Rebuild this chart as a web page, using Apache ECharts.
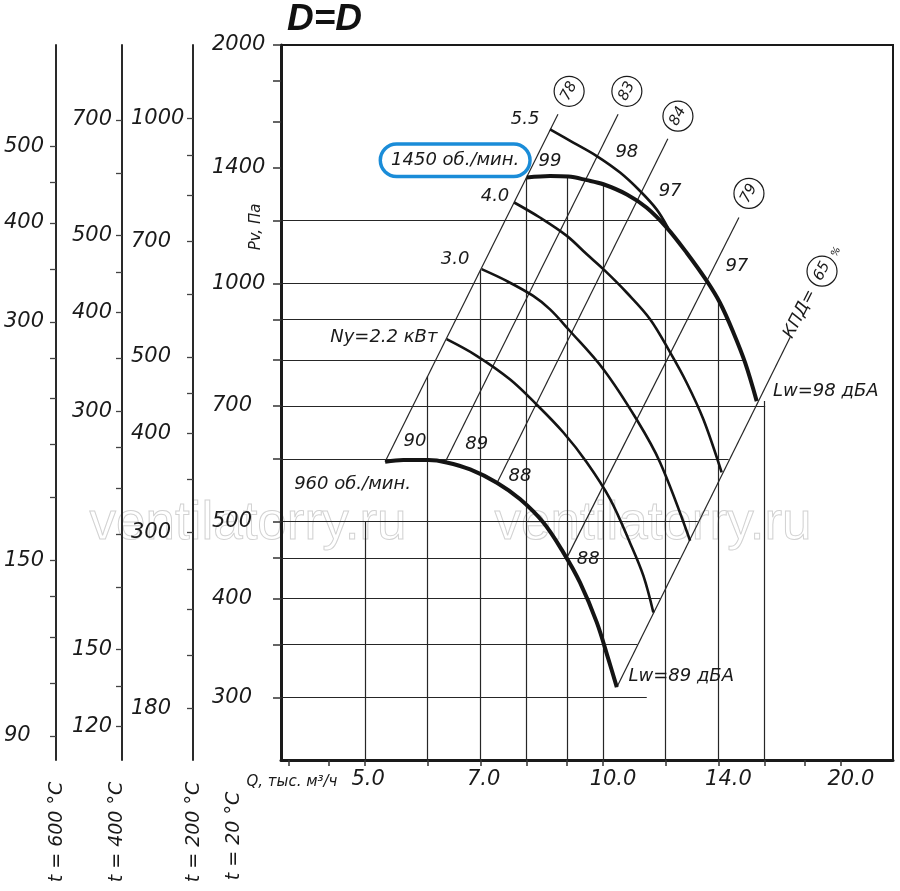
<!DOCTYPE html>
<html><head><meta charset="utf-8">
<script src="https://cdn.jsdelivr.net/npm/echarts@6/dist/echarts.min.js"></script>
<style>html,body{margin:0;padding:0;background:#fff}#c{width:900px;height:891px}</style>
</head><body><div id="c"></div>
<script>
// ---------------- data ----------------
const qMin = 3.913, qMax = 23.28, pMin = 250, pMax = 2000;
const xTicks = [4, 4.5, 5, 6, 7, 8, 9, 10, 12, 14, 16, 18, 20];
const xLabels = [5, 7, 10, 14, 20];
const yTicks20 = [2000, 1800, 1600, 1400, 1200, 1000, 900, 800, 700, 600, 500, 450, 400, 350, 300];
const yLabels20 = [2000, 1400, 1000, 700, 500, 400, 300];
const yTicks200 = [1000, 900, 800, 700, 600, 500, 450, 400, 350, 300, 270, 240, 210, 180];
const yLabels200 = [1000, 700, 500, 400, 300, 180];
const yTicks400 = [700, 600, 500, 450, 400, 350, 300, 270, 240, 210, 180, 150, 135, 120];
const yLabels400 = [700, 500, 400, 300, 150, 120];
const yTicks600 = [500, 450, 400, 350, 300, 270, 240, 210, 180, 150, 135, 120, 105, 90];
const yLabels600 = [500, 400, 300, 150, 90];
const temps = [200, 400, 600];

// fan curves (Q, тыс. м3/ч ; Pv, Па)
const q1450 = [8.01, 8.57, 9.04, 9.54, 10.01, 10.72, 11.36, 12.04, 12.76, 13.53, 14.06, 14.62, 15.13, 15.65];
const p1450 = [1360, 1366, 1364, 1350, 1334, 1295, 1246, 1176, 1093, 1007, 945, 867, 794, 710];
const q960 = [5.30, 5.59, 6.01, 6.34, 6.79, 7.34, 7.85, 8.40, 8.91, 9.35, 9.82, 10.16, 10.41];
const p960 = [595, 598, 598, 594, 582, 560, 534, 499, 457, 419, 373, 335, 309];
const qN55 = [8.57, 9.17, 9.82, 10.51, 11.14, 11.69, 12.09];
const pN55 = [1565, 1506, 1448, 1380, 1308, 1240, 1174];
const qN40 = [7.72, 8.32, 9.00, 9.54, 10.01, 10.72, 11.47, 12.16, 12.76, 13.40, 14.13];
const pN40 = [1265, 1211, 1148, 1088, 1042, 973, 901, 818, 749, 673, 577];
const qN30 = [7.02, 7.55, 8.16, 8.57, 9.04, 10.01, 11.03, 11.81, 12.89];
const pN30 = [1042, 1007, 964, 927, 875, 779, 673, 594, 473];
const qN22 = [6.34, 6.92, 7.63, 8.24, 8.91, 9.54, 10.21, 10.82, 11.25, 11.58];
const pN22 = [850, 810, 756, 703, 648, 594, 534, 470, 427, 384];

// efficiency (system) lines: low end / high end
const effQ0 = [5.30, 6.31, 7.34, 9.00, 10.41];
const effP0 = [595, 594, 559, 450, 309];
const effQ1 = [8.77, 10.45, 12.08, 14.86, 17.25];
const effP1 = [1635, 1635, 1523, 1211, 855];
const effNames = ['78', '83', '84', '79', '65'];
const effLabelQ = [9.06, 10.72, 12.44, 15.30, 18.93];
const effLabelP = [1748, 1748, 1626, 1299, 1036];

// grid lines inside the working field
const vgQ = [5, 6, 7, 8, 9, 10, 12, 14, 16];
const vgTop = [500, 763, 1040, 1360, 1364, 1334, 1176, 945, 710];
const hgP = [1200, 1000, 900, 800, 700, 600, 500, 450, 400, 350, 300];
const hgEnd = [11.85, 13.6, 14.38, 15.1, 16.04, 14.42, 13.18, 12.51, 11.81, 11.06, 11.36];

// text annotations
const noteText = ['5.5', '4.0', '3.0', 'Ny=2.2 кВт', '99', '98', '97', '97', '90', '89', '88', '88', '960 об./мин.'];
const noteQ = [7.97, 7.30, 6.50, 5.28, 8.57, 10.72, 12.16, 14.77, 5.78, 6.92, 7.85, 9.58, 4.82];
const noteP = [1612, 1289, 1072, 855, 1427, 1463, 1308, 1052, 632, 626, 571, 448, 557];
const lwText = ['Lw=98 дБА', 'Lw=89 дБА'];
const lwQ = [16.41, 10.77];
const lwP = [731, 319];
const rpmText = '1450 об./мин.';
const rpmQ = 6.50, rpmP = 1430;
const kpdQ = 17.75, kpdP = 915;
const pctQ = 19.72, pctP = 1096;

// ---------------- chart ----------------
const L = Math.log10;
const fmtP = v => String(Math.round(Math.pow(10, v)));
const INK = '#1a1a1a';
const FONT = 'DejaVu Sans';
const pt = (q, p) => [L(q), L(p)];
const zip = (qs, ps) => qs.map((q, i) => pt(q, ps[i]));

const tempTicks = {200: yTicks200, 400: yTicks400, 600: yTicks600};
const tempLabels = {200: yLabels200, 400: yLabels400, 600: yLabels600};
const tempOffset = {200: 88, 400: 159, 600: 225};
const tempMargin = {200: 62, 400: 50, 600: 52};

const labelStyle = {fontFamily: FONT, fontStyle: 'italic', fontSize: 21, color: INK};

const yAxes = [{
  type: 'value', position: 'left', min: L(pMin), max: L(pMax),
  axisLine: {show: true, onZero: false, lineStyle: {color: INK, width: 3}},
  axisTick: {show: true, customValues: yTicks20.map(L), length: 8, lineStyle: {color: '#333', width: 1.5}},
  axisLabel: Object.assign({customValues: yLabels20.map(L), formatter: fmtP, align: 'left', margin: 69}, labelStyle),
  splitLine: {show: false}
}].concat(temps.map(t => {
  const lk = L(293 / (273 + t));
  return {
    type: 'value', position: 'left', offset: tempOffset[t],
    min: L(pMin) + lk, max: L(pMax) + lk,
    axisLine: {show: true, onZero: false, lineStyle: {color: '#2a2a2a', width: 2}},
    axisTick: {show: true, customValues: tempTicks[t].map(L), length: 6, lineStyle: {color: '#444', width: 1.3}},
    axisLabel: Object.assign({customValues: tempLabels[t].map(L), formatter: fmtP, align: 'left', margin: tempMargin[t]}, labelStyle),
    splitLine: {show: false}
  };
}));

const gridSegs = vgQ.map((q, i) => ({coords: [pt(q, pMin), pt(q, vgTop[i])]}))
  .concat(hgP.map((p, i) => ({coords: [pt(qMin, p), pt(hgEnd[i], p)]})));
const effSegs = effQ0.map((q, i) => ({coords: [pt(q, effP0[i]), pt(effQ1[i], effP1[i])]}));

const curve = (name, qs, ps, w) => ({
  type: 'line', name, data: zip(qs, ps), smooth: 0.35, symbol: 'none', z: 4,
  lineStyle: {color: '#141414', width: w, opacity: 1}, silent: true
});

const textLabel = {show: true, position: 'inside', formatter: '{b}', fontFamily: FONT, fontStyle: 'italic',
  fontSize: 18, color: INK, opacity: 1, textBorderWidth: 0, textBorderColor: 'transparent', textShadowBlur: 0};
const noMark = {opacity: 1, color: 'transparent'};

const option = {
  animation: false,
  backgroundColor: '#fff',
  grid: {left: 281, right: 7, top: 45, bottom: 131, show: true, borderColor: INK, borderWidth: 2, containLabel: false, outerBoundsMode: 'none'},
  xAxis: {
    type: 'value', min: L(qMin), max: L(qMax),
    axisLine: {show: true, onZero: false, lineStyle: {color: INK, width: 3}},
    axisTick: {show: true, customValues: xTicks.map(L), length: 6, lineStyle: {color: '#333', width: 1.5}},
    axisLabel: {
      customValues: xLabels.map(L), margin: 9,
      formatter: v => { const s = Math.pow(10, v).toFixed(1); return s.length > 3 ? '{w|' + s + '}' : '{n|' + s + '}'; },
      rich: {
        w: Object.assign({padding: [0, 0, 0, 20]}, labelStyle),
        n: Object.assign({padding: [0, 0, 0, 6]}, labelStyle)
      }
    },
    splitLine: {show: false}
  },
  yAxis: yAxes,
  series: [
    {type: 'lines', coordinateSystem: 'cartesian2d', data: gridSegs, silent: true, z: 1,
     lineStyle: {color: '#262626', width: 1.2, opacity: 1}},
    {type: 'lines', coordinateSystem: 'cartesian2d', data: effSegs, silent: true, z: 2,
     lineStyle: {color: '#262626', width: 1.2, opacity: 1}},
    curve('1450', q1450, p1450, 4),
    curve('960', q960, p960, 4),
    curve('5.5', qN55, pN55, 2.6),
    curve('4.0', qN40, pN40, 2.6),
    curve('3.0', qN30, pN30, 2.6),
    curve('2.2', qN22, pN22, 2.6),
    {type: 'scatter', symbolSize: 0, silent: true, z: 6, itemStyle: noMark, label: textLabel,
     data: noteText.map((s, i) => ({name: s, value: pt(noteQ[i], noteP[i])}))},
    {type: 'scatter', symbolSize: 0, silent: true, z: 6, itemStyle: noMark, label: Object.assign({}, textLabel, {align: 'left'}),
     data: lwText.map((s, i) => ({name: s, value: pt(lwQ[i], lwP[i])}))},
    {type: 'scatter', symbolSize: 0, silent: true, z: 6, itemStyle: noMark,
     label: Object.assign({}, textLabel, {backgroundColor: '#fff', borderColor: '#1a8cd8', borderWidth: 3.5, borderRadius: 17, padding: [6, 9, 5, 9]}),
     data: [{name: rpmText, value: pt(rpmQ, rpmP)}]},
    {type: 'scatter', symbolSize: 0, silent: true, z: 6, itemStyle: noMark,
     label: Object.assign({}, textLabel, {rotate: 63, fontSize: 17}),
     data: [{name: 'КПД=', value: pt(kpdQ, kpdP)}]},
    {type: 'scatter', symbolSize: 0, silent: true, z: 6, itemStyle: noMark,
     label: Object.assign({}, textLabel, {rotate: 63, fontSize: 10}),
     data: [{name: '%', value: pt(pctQ, pctP)}]},
    {type: 'scatter', symbol: 'circle', symbolSize: 30, silent: true, z: 6,
     itemStyle: {color: '#fff', borderColor: INK, borderWidth: 1.2, opacity: 1},
     label: Object.assign({}, textLabel, {rotate: 63, fontSize: 15}),
     data: effNames.map((s, i) => ({name: s, value: pt(effLabelQ[i], effLabelP[i])}))}
  ],
  graphic: [
    {type: 'text', x: 287, y: 20, z: 10, style: {text: 'D=D', font: 'italic bold 37px "Liberation Sans"', fill: '#111', textVerticalAlign: 'middle', verticalAlign: 'middle'}},
    {type: 'text', x: 256, y: 227, rotation: Math.PI / 2, z: 10, style: {text: 'Pv, Па', font: 'italic 15px "DejaVu Sans"', fill: INK, textAlign: 'center', align: 'center', textVerticalAlign: 'middle', verticalAlign: 'middle'}},
    {type: 'text', x: 292, y: 782, z: 10, style: {text: 'Q, тыс. м³/ч', font: 'italic 15px "DejaVu Sans"', fill: INK, textAlign: 'center', align: 'center', textVerticalAlign: 'middle', verticalAlign: 'middle'}},
    {type: 'text', x: 57, y: 832, rotation: Math.PI / 2, z: 10, style: {text: 't = 600 °C', font: 'italic 19px "DejaVu Sans"', fill: INK, textAlign: 'center', align: 'center', textVerticalAlign: 'middle', verticalAlign: 'middle'}},
    {type: 'text', x: 117, y: 832, rotation: Math.PI / 2, z: 10, style: {text: 't = 400 °C', font: 'italic 19px "DejaVu Sans"', fill: INK, textAlign: 'center', align: 'center', textVerticalAlign: 'middle', verticalAlign: 'middle'}},
    {type: 'text', x: 194, y: 832, rotation: Math.PI / 2, z: 10, style: {text: 't = 200 °C', font: 'italic 19px "DejaVu Sans"', fill: INK, textAlign: 'center', align: 'center', textVerticalAlign: 'middle', verticalAlign: 'middle'}},
    {type: 'text', x: 234, y: 836, rotation: Math.PI / 2, z: 10, style: {text: 't = 20 °C', font: 'italic 19px "DejaVu Sans"', fill: INK, textAlign: 'center', align: 'center', textVerticalAlign: 'middle', verticalAlign: 'middle'}},
    {type: 'text', x: 248, y: 524, z: 0, silent: true, style: {text: 'ventilatorry.ru', font: '53px "Liberation Sans"', fill: 'none', stroke: '#d2d2d2', lineWidth: 1, textAlign: 'center', align: 'center', textVerticalAlign: 'middle', verticalAlign: 'middle'}},
    {type: 'text', x: 653, y: 524, z: 0, silent: true, style: {text: 'ventilatorry.ru', font: '53px "Liberation Sans"', fill: 'none', stroke: '#d2d2d2', lineWidth: 1, textAlign: 'center', align: 'center', textVerticalAlign: 'middle', verticalAlign: 'middle'}}
  ]
};

const chart = echarts.init(document.getElementById('c'), null, {renderer: 'canvas'});
chart.setOption(option);
</script>
</body></html>
